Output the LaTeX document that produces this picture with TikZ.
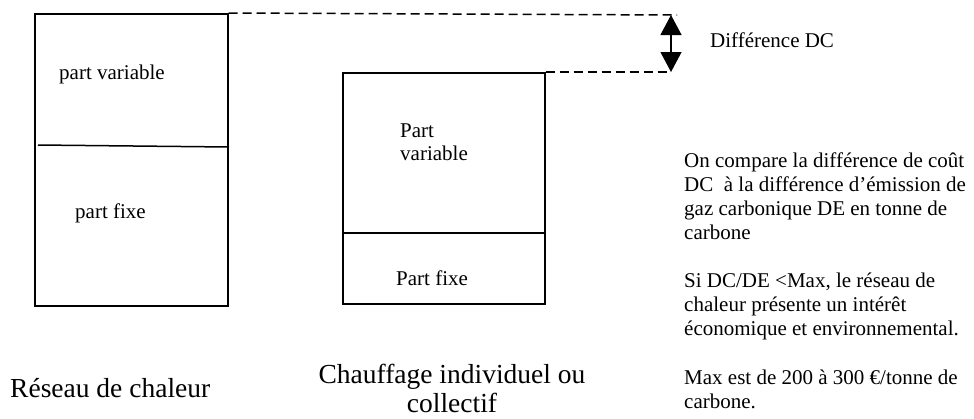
\documentclass[tikz,border=0pt]{standalone}
\usepackage{fontspec}
\setmainfont{Liberation Serif}
\usetikzlibrary{arrows.meta}
\tikzset{
  boxline/.style={draw=black, line width=1.5pt},
  panel/.style={boxline, anchor=north west, inner sep=0pt, fill=none},
  dashline/.style={draw=black, line width=1.5pt, dash pattern=on 9pt off 5pt},
  body/.style={font=\fontsize{21}{24.1}\selectfont, inner sep=0pt, anchor=base west, align=left},
  bigtxt/.style={font=\fontsize{27.5}{29}\selectfont, inner sep=0pt, align=center},
  diffarrow/.style={line width=1.2pt, {Triangle[width=21pt,length=20pt]}-{Triangle[width=21pt,length=20pt]}}
}
\begin{document}
\begin{tikzpicture}[x=1pt,y=-1pt]
\useasboundingbox (0,0) rectangle (974,418);
% left box
\node[panel, minimum width=193pt, minimum height=292pt] (lbox) at (34,13) {};
\coordinate (ldivL) at (38,145);
\coordinate (ldivR) at (229,147);
\draw[boxline] (ldivL) -- (ldivR);
% right box
\node[panel, minimum width=202pt, minimum height=231pt] (rbox) at (342,72) {};
\coordinate (rdivL) at (342,233);
\coordinate (rdivR) at (544,233);
\draw[boxline] (rdivL) -- (rdivR);
% dashed guides
\coordinate (dtopEnd) at (677,15);
\coordinate (dbotEnd) at (670,72);
\draw[dashline] (lbox.north east) -- (dtopEnd);
\draw[dashline] (rbox.north east) -- (dbotEnd);
% double arrow
\coordinate (atop) at (671,15);
\coordinate (abot) at (671,72);
\draw[diffarrow] (atop) -- (abot);
% texts (multi-line nodes: base anchor = last line's baseline)
\node[body] (tdiff) at (710,47) {Différence DC};
\node[body] (lvar) at (59,79) {part variable};
\node[body] (lfix) at (75,218) {part fixe};
\node[body, font=\fontsize{21}{23.5}\selectfont] (rvar) at (400,160.5) {Part\\variable};
\node[body] (rfix) at (396,285) {Part fixe};
\node[bigtxt, anchor=base west] (lcap) at (10,397) {Réseau de chaleur};
\node[bigtxt, anchor=base] (rcap) at (452,412) {Chauffage individuel ou\\collectif};
\node[body] (p1) at (684,239.3) {On compare la différence de coût\\DC\ \ à la différence d’émission de\\gaz carbonique DE en tonne de\\carbone};
\node[body] (p2) at (684,335.2) {Si DC/DE <Max, le réseau de\\chaleur présente un intérêt\\économique et environnemental.};
\node[body] (p3) at (684,408.1) {Max est de 200 à 300 €/tonne de\\carbone.};
\end{tikzpicture}
\end{document}
